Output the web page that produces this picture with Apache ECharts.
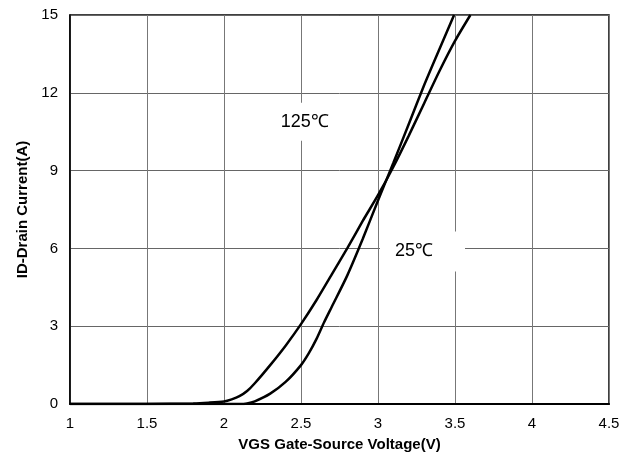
<!DOCTYPE html>
<html>
<head>
<meta charset="utf-8">
<script src="https://cdn.jsdelivr.net/npm/echarts@6/dist/echarts.min.js"></script>
<style>html,body{margin:0;padding:0;background:#fff}#c{width:633px;height:463px}</style>
</head>
<body>
<div id="c"></div>
<script>
// VGS (V) vs ID (A)
const vgs125 = [1.0, 1.5, 1.8, 1.9, 2.0, 2.05, 2.1, 2.15, 2.2, 2.3, 2.4, 2.5, 2.6, 2.7, 2.8, 2.9, 3.0, 3.1, 3.2, 3.3, 3.4, 3.5, 3.6];
const id125  = [0, 0, 0.02, 0.05, 0.1, 0.18, 0.3, 0.5, 0.8, 1.5, 2.25, 3.08, 4.0, 5.0, 6.0, 7.05, 8.05, 9.15, 10.35, 11.6, 12.85, 14.0, 15.0];
const vgs25  = [1.0, 2.1, 2.15, 2.2, 2.3, 2.4, 2.5, 2.55, 2.6, 2.65, 2.7, 2.8, 2.9, 3.0, 3.1, 3.2, 3.3, 3.4, 3.494];
const id25   = [0, 0, 0.02, 0.1, 0.4, 0.85, 1.5, 1.95, 2.5, 3.15, 3.75, 4.95, 6.35, 7.85, 9.3, 10.8, 12.3, 13.7, 15.0];
const xTicks = {min: 1, max: 4.5, interval: 0.5};
const yTicks = {min: 0, max: 15, interval: 3};
const labels = [
  {name: '125℃', coord: [2.525, 10.88]},
  {name: '25℃', coord: [3.289, 5.88]}
];

const zip = (xs, ys) => xs.map((x, i) => [x, ys[i]]);
const font = 'Liberation Sans, Arial, sans-serif';
const chart = echarts.init(document.getElementById('c'), null, {renderer: 'canvas'});
chart.setOption({
  animation: false,
  backgroundColor: '#fff',
  grid: {left: 70, right: 24, top: 15, bottom: 59, show: true, borderColor: '#000', borderWidth: 1.5, backgroundColor: 'transparent'},
  xAxis: {
    type: 'value', min: xTicks.min, max: xTicks.max, interval: xTicks.interval,
    name: 'VGS Gate-Source Voltage(V)', nameLocation: 'middle', nameGap: 33,
    nameTextStyle: {fontFamily: font, fontSize: 15, fontWeight: 'bold', color: '#000'},
    axisLine: {show: true, lineStyle: {color: '#000', width: 2}},
    axisTick: {show: false},
    axisLabel: {fontFamily: font, fontSize: 15, color: '#000', margin: 12},
    splitLine: {show: true, lineStyle: {color: '#777', width: 1}}
  },
  yAxis: {
    type: 'value', min: yTicks.min, max: yTicks.max, interval: yTicks.interval,
    name: 'ID-Drain Current(A)', nameLocation: 'middle', nameGap: 40,
    nameTextStyle: {fontFamily: font, fontSize: 15, fontWeight: 'bold', color: '#000'},
    axisLine: {show: true, lineStyle: {color: '#000', width: 1.5}},
    axisTick: {show: false},
    axisLabel: {fontFamily: font, fontSize: 15, color: '#000', margin: 12},
    splitLine: {show: true, lineStyle: {color: '#666', width: 1}}
  },
  series: [
    {
      type: 'line', name: '125℃', data: zip(vgs125, id125), showSymbol: false, symbol: 'none',
      smooth: 0.25, clip: true,
      lineStyle: {color: '#000', width: 2.5},
      markPoint: {
        symbol: 'rect', symbolSize: 1, itemStyle: {color: 'rgba(0,0,0,0)'},
        label: {show: true, position: 'inside', formatter: p => p.name, fontFamily: font, fontSize: 18, color: '#000',
          backgroundColor: '#fff', padding: [10, 5, 10, 5]},
        data: [labels[0]]
      }
    },
    {
      type: 'line', name: '25℃', data: zip(vgs25, id25), showSymbol: false, symbol: 'none',
      smooth: 0.25, clip: true,
      lineStyle: {color: '#000', width: 2.5},
      markPoint: {
        symbol: 'rect', symbolSize: 1, itemStyle: {color: 'rgba(0,0,0,0)'},
        label: {show: true, position: 'inside', formatter: p => p.name, fontFamily: font, fontSize: 18, color: '#000',
          backgroundColor: '#fff', padding: [11, 32, 11, 15]},
        data: [labels[1]]
      }
    }
  ]
});
</script>
</body>
</html>
